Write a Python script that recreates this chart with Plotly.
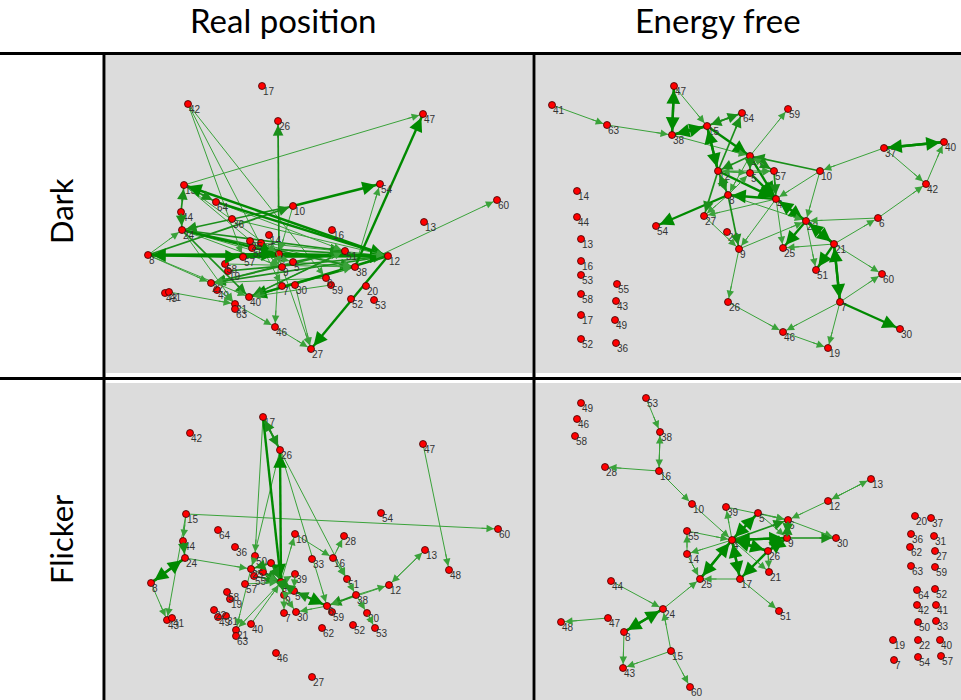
import math
import plotly.graph_objects as go

W, H = 961, 700

# ---------------- Dark / real position ----------------
DR_IDS = ["17", "42", "26", "47", "15", "54", "64", "10", "60", "44", "36", "13", "24", "16", "14",
          "25", "37", "55", "8", "57", "4", "51", "12", "58", "5", "38", "9", "19", "22", "6",
          "59", "7", "30", "20", "43", "41", "49", "40", "52", "53", "21", "63", "46", "27"]
DR_X = [156, 82, 172, 317, 78, 274, 110, 187, 391, 75, 126, 318, 76, 226, 163,
        144, 155, 146, 42, 137, 173, 239, 282, 119, 187, 249, 176, 122, 105, 220,
        225, 176, 189, 260, 59, 63, 111, 143, 245, 268, 129, 129, 169, 205]
DR_Y = [31, 49, 66, 59, 130, 129, 147, 151, 145, 157, 164, 167, 175, 175, 180,
        186, 188, 193, 200, 202, 199, 196, 201, 209, 207, 212, 212, 216, 228, 223,
        230, 231, 230, 231, 238, 237, 235, 242, 244, 245, 249, 254, 272, 294]
DR_EDGES = [("15", "47", 1), ("38", "47", 3), ("4", "26", 2), ("42", "57", 1), ("42", "7", 1), ("42", "6", 1),
            ("44", "15", 2), ("44", "24", 2), ("12", "15", 3), ("64", "12", 3), ("15", "64", 2),
            ("10", "24", 2), ("10", "54", 3), ("8", "12", 3), ("12", "8", 3), ("8", "10", 2), ("8", "24", 1),
            ("24", "51", 2), ("24", "38", 2), ("24", "5", 1), ("24", "4", 3), ("24", "40", 2),
            ("38", "54", 1), ("38", "60", 1), ("12", "27", 3),
            ("8", "22", 1), ("12", "22", 2), ("51", "22", 2), ("5", "22", 1),
            ("41", "21", 1), ("12", "40", 3), ("38", "40", 2), ("51", "40", 2),
            ("21", "46", 1), ("46", "27", 1), ("4", "46", 1), ("9", "27", 1), ("30", "27", 1),
            ("5", "38", 1), ("5", "51", 2), ("7", "38", 1), ("19", "12", 2), ("58", "38", 1),
            ("10", "4", 1), ("8", "4", 3), ("8", "57", 3), ("15", "4", 1), ("22", "21", 1), ("24", "21", 1),
            ("57", "12", 3), ("55", "12", 2), ("4", "12", 3), ("36", "12", 1), ("64", "51", 1),
            ("15", "9", 1), ("24", "9", 1), ("8", "40", 1), ("40", "51", 1), ("37", "12", 1),
            ("25", "38", 1), ("14", "9", 1), ("59", "40", 1), ("6", "22", 1)]

# ---------------- Dark / energy free ----------------
DE_IDS = ["41", "47", "63", "38", "15", "64", "59", "24", "37", "40", "12", "5", "57", "10", "42",
          "14", "8", "4", "44", "27", "6", "22", "54", "20", "13", "21", "25", "9", "16", "51",
          "60", "53", "55", "58", "43", "7", "26", "17", "49", "46", "30", "52", "36", "19"]
DE_X = [16, 138, 71, 136, 171, 206, 252, 214, 348, 408, 182, 214, 238, 284, 390,
        41, 192, 240, 41, 168, 342, 270, 120, 191, 45, 298, 247, 203, 45, 280,
        346, 45, 81, 45, 80, 304, 192, 45, 79, 247, 364, 45, 80, 292]
DE_Y = [50, 31, 70, 80, 71, 58, 54, 101, 93, 87, 116, 118, 116, 116, 129,
        136, 140, 144, 162, 161, 163, 166, 171, 177, 184, 189, 193, 194, 206, 215,
        219, 220, 229, 239, 246, 247, 247, 260, 265, 277, 274, 284, 288, 293]
DE_EDGES = [("41", "63", 1), ("63", "38", 1), ("38", "47", 3), ("47", "38", 3), ("15", "38", 3), ("38", "15", 3),
            ("47", "15", 1), ("15", "64", 2), ("64", "15", 2), ("24", "59", 1), ("15", "24", 3), ("38", "24", 1),
            ("12", "64", 2), ("12", "15", 3), ("15", "12", 3), ("37", "40", 3), ("40", "37", 3), ("37", "10", 1),
            ("37", "42", 1), ("42", "40", 1), ("10", "24", 2), ("6", "42", 1), ("6", "22", 1), ("21", "6", 1),
            ("10", "22", 1), ("10", "4", 1), ("4", "22", 3), ("22", "4", 3), ("22", "21", 3), ("21", "22", 3),
            ("22", "25", 3), ("21", "25", 1), ("22", "51", 1), ("21", "51", 3), ("21", "7", 3), ("7", "21", 3),
            ("21", "60", 1), ("7", "60", 1), ("7", "30", 3), ("7", "46", 1), ("7", "19", 1), ("46", "19", 1),
            ("26", "46", 1), ("9", "26", 1), ("9", "22", 1), ("4", "9", 1), ("27", "9", 1), ("8", "9", 2),
            ("8", "54", 3), ("8", "27", 1), ("4", "27", 1), ("4", "8", 3), ("5", "4", 3), ("24", "4", 3),
            ("57", "4", 2), ("12", "4", 3), ("12", "8", 2), ("8", "12", 2), ("12", "27", 2), ("12", "5", 1),
            ("5", "12", 1), ("5", "57", 1), ("12", "57", 1), ("8", "22", 1), ("4", "25", 1), ("24", "12", 2),
            ("24", "5", 2), ("24", "57", 2), ("24", "8", 1), ("8", "5", 1), ("57", "24", 1)]

# ---------------- Flicker / real position ----------------
FR_IDS = ["17", "42", "26", "47", "15", "54", "60", "64", "10", "28", "44", "36", "13", "24", "50",
          "33", "16", "14", "48", "25", "37", "55", "8", "39", "4", "57", "51", "12", "5", "38",
          "58", "19", "9", "6", "59", "22", "49", "31", "7", "30", "20", "43", "41", "40", "52",
          "53", "62", "21", "63", "46", "27"]
FR_X = [157, 84, 174, 317, 80, 275, 392, 112, 189, 238, 77, 129, 319, 79, 149,
        206, 227, 165, 343, 145, 157, 148, 45, 189, 175, 139, 241, 283, 188, 250,
        121, 124, 178, 221, 226, 108, 112, 120, 178, 190, 261, 61, 66, 145, 247,
        269, 216, 130, 130, 170, 206]
FR_Y = [34, 50, 67, 61, 131, 130, 146, 147, 151, 153, 158, 164, 167, 175, 173,
        176, 175, 180, 187, 186, 189, 193, 200, 191, 199, 201, 196, 202, 208, 212,
        209, 216, 212, 223, 229, 227, 234, 233, 230, 229, 230, 237, 235, 241, 242,
        245, 245, 247, 253, 270, 294]
FR_EDGES = [("17", "26", 2), ("26", "17", 2), ("17", "4", 3), ("17", "50", 1), ("4", "26", 3), ("26", "21", 1),
            ("26", "6", 1), ("26", "51", 1), ("47", "48", 1), ("15", "60", 1), ("15", "44", 1), ("44", "24", 2),
            ("15", "43", 1), ("8", "43", 1), ("8", "24", 3), ("24", "8", 3), ("24", "25", 1), ("10", "16", 1),
            ("16", "28", 1), ("16", "51", 1), ("4", "10", 1), ("55", "4", 2), ("37", "4", 2), ("14", "4", 2),
            ("4", "39", 1), ("4", "5", 2), ("5", "4", 2), ("4", "9", 2), ("14", "25", 2), ("50", "25", 1),
            ("51", "38", 1), ("38", "6", 2), ("12", "6", 1), ("38", "12", 1), ("12", "13", 1), ("13", "12", 1),
            ("38", "20", 1), ("20", "53", 1), ("5", "6", 3), ("6", "5", 2), ("6", "30", 1), ("9", "30", 1),
            ("4", "21", 1), ("9", "7", 1), ("57", "4", 1), ("25", "4", 1), ("39", "5", 1), ("9", "5", 1),
            ("40", "4", 1)]

# ---------------- Flicker / energy free ----------------
FE_IDS = ["49", "53", "46", "38", "58", "28", "16", "13", "10", "12", "39", "5", "20", "37", "6",
          "55", "36", "31", "9", "30", "4", "62", "27", "26", "14", "63", "59", "21", "25", "17",
          "44", "64", "52", "24", "51", "42", "41", "47", "48", "50", "33", "8", "19", "22", "40",
          "15", "7", "54", "57", "43", "60"]
FE_X = [45, 110, 41, 124, 39, 69, 123, 335, 156, 292, 190, 222, 379, 395, 252,
        151, 375, 398, 251, 300, 196, 374, 399, 232, 151, 375, 399, 233, 164, 204,
        75, 381, 399, 127, 243, 381, 400, 72, 25, 382, 400, 88, 357, 382, 404,
        135, 358, 382, 405, 87, 154]
FE_Y = [20, 15, 36, 49, 53, 84, 88, 96, 121, 118, 124, 130, 133, 135, 137,
        148, 151, 153, 155, 155, 157, 164, 168, 168, 171, 183, 184, 189, 196, 196,
        198, 207, 206, 226, 228, 222, 222, 235, 239, 239, 238, 249, 257, 257, 257,
        268, 277, 274, 273, 285, 304]
FE_EDGES = [("53", "38", 1), ("16", "38", 1), ("38", "16", 1), ("16", "28", 1), ("16", "10", 1), ("10", "4", 1),
            ("12", "13", 1), ("13", "12", 1), ("12", "6", 1), ("4", "39", 1), ("39", "6", 1), ("5", "4", 3),
            ("4", "5", 3), ("5", "9", 1), ("5", "6", 1), ("6", "30", 1), ("9", "30", 2), ("6", "9", 2), ("9", "6", 2),
            ("4", "9", 3), ("9", "4", 3), ("4", "6", 2), ("55", "4", 1), ("14", "55", 1), ("4", "14", 1),
            ("14", "25", 1), ("4", "25", 3), ("25", "4", 3), ("4", "17", 3), ("17", "4", 3), ("4", "26", 3),
            ("26", "4", 3), ("4", "21", 1), ("26", "21", 1), ("26", "9", 3), ("9", "26", 3), ("26", "17", 3),
            ("17", "25", 1), ("17", "51", 1), ("44", "24", 1), ("24", "25", 1), ("24", "8", 3), ("8", "24", 3),
            ("47", "48", 1), ("8", "43", 1), ("15", "43", 1), ("15", "24", 1), ("15", "60", 1)]

COLUMN_TITLES = ["Real position", "Energy free"]
ROW_TITLES = ["Dark", "Flicker"]

# panel boxes in page pixels: (left, top, right, bottom)
BOXES = [(106, 55, 532, 373), (536, 55, 961, 373), (106, 383, 532, 700), (536, 383, 961, 700)]
PANELS = [(DR_IDS, DR_X, DR_Y, DR_EDGES), (DE_IDS, DE_X, DE_Y, DE_EDGES),
          (FR_IDS, FR_X, FR_Y, FR_EDGES), (FE_IDS, FE_X, FE_Y, FE_EDGES)]

EDGE_COLOR = {1: "#3aa23a", 2: "#1a8f1a", 3: "#008a00"}
EDGE_WIDTH = {1: 1.0, 2: 1.7, 3: 2.4}
HEAD_SIZE = {1: 1.5, 2: 1.25, 3: 1.15}
BG = "#dcdcdc"
HEAD_FONT = "Lato, Open Sans, sans-serif"

fig = go.Figure()
annotations = []
layout_axes = {}

for k, ((ids, xs, ys, edges), (l, t, r, b)) in enumerate(zip(PANELS, BOXES)):
    sfx = "" if k == 0 else str(k + 1)
    xr, yr = "x" + sfx, "y" + sfx
    wpx, hpx = r - l, b - t
    layout_axes["xaxis" + sfx] = dict(domain=[l / W, r / W], range=[0, wpx], visible=False,
                                      fixedrange=True, anchor=yr)
    layout_axes["yaxis" + sfx] = dict(domain=[1 - b / H, 1 - t / H], range=[hpx, 0], visible=False,
                                      fixedrange=True, anchor=xr)
    pos = {n: (x, y) for n, x, y in zip(ids, xs, ys)}

    # edge shafts, drawn beneath the nodes
    for w in (1, 2, 3):
        lx, ly = [], []
        for s, d, ew in edges:
            if ew == w:
                lx += [pos[s][0], pos[d][0], None]
                ly += [pos[s][1], pos[d][1], None]
        if lx:
            fig.add_trace(go.Scatter(x=lx, y=ly, mode="lines", xaxis=xr, yaxis=yr,
                                     line=dict(color=EDGE_COLOR[w], width=EDGE_WIDTH[w]),
                                     hoverinfo="skip", showlegend=False))

    # nodes
    fig.add_trace(go.Scatter(x=xs, y=ys, mode="markers", xaxis=xr, yaxis=yr,
                             marker=dict(size=7, color="#ff0000", line=dict(color="#3a0000", width=0.8)),
                             hoverinfo="skip", showlegend=False))
    # node labels
    fig.add_trace(go.Scatter(x=[x + 1 for x in xs], y=[y + 1 for y in ys], mode="text", text=ids,
                             textposition="bottom right", xaxis=xr, yaxis=yr,
                             textfont=dict(family="Liberation Sans, Arial", size=10, color="#333333"),
                             hoverinfo="skip", showlegend=False))

    # arrowheads at the target end of each edge
    for s, d, ew in edges:
        x0, y0 = pos[s]
        x1, y1 = pos[d]
        dist = math.hypot(x1 - x0, y1 - y0)
        ux, uy = (x1 - x0) / dist, (y1 - y0) / dist
        tail = min(18.0, dist)
        annotations.append(dict(x=x1, y=y1, ax=x1 - ux * tail, ay=y1 - uy * tail,
                                xref=xr, yref=yr, axref=xr, ayref=yr, text="",
                                showarrow=True, arrowhead=2, arrowsize=HEAD_SIZE[ew],
                                arrowwidth=EDGE_WIDTH[ew], arrowcolor=EDGE_COLOR[ew], standoff=4))

# column and row headings
for title, cx in zip(COLUMN_TITLES, [283, 718]):
    annotations.append(dict(x=cx / W, y=1 - 20 / H, xref="paper", yref="paper", text=title,
                            showarrow=False, xanchor="center", yanchor="middle",
                            font=dict(family=HEAD_FONT, size=33, color="#000000")))
for title, cy in zip(ROW_TITLES, [211, 539]):
    annotations.append(dict(x=61 / W, y=1 - cy / H, xref="paper", yref="paper", text=title,
                            showarrow=False, xanchor="center", yanchor="middle", textangle=-90,
                            font=dict(family=HEAD_FONT, size=31, color="#000000")))

# table rules
shapes = [
    dict(type="line", xref="paper", yref="paper", x0=0, x1=1, y0=1 - 53.5 / H, y1=1 - 53.5 / H,
         line=dict(color="black", width=3)),
    dict(type="line", xref="paper", yref="paper", x0=0, x1=1, y0=1 - 378.5 / H, y1=1 - 378.5 / H,
         line=dict(color="black", width=3)),
    dict(type="line", xref="paper", yref="paper", x0=104 / W, x1=104 / W, y0=0, y1=1 - 53 / H,
         line=dict(color="black", width=3)),
    dict(type="line", xref="paper", yref="paper", x0=534 / W, x1=534 / W, y0=0, y1=1 - 53 / H,
         line=dict(color="black", width=3)),
]

fig.update_layout(width=W, height=H, margin=dict(l=0, r=0, t=0, b=0),
                  paper_bgcolor="white", plot_bgcolor=BG, showlegend=False,
                  annotations=annotations, shapes=shapes, **layout_axes)

fig.write_html("out.html")
